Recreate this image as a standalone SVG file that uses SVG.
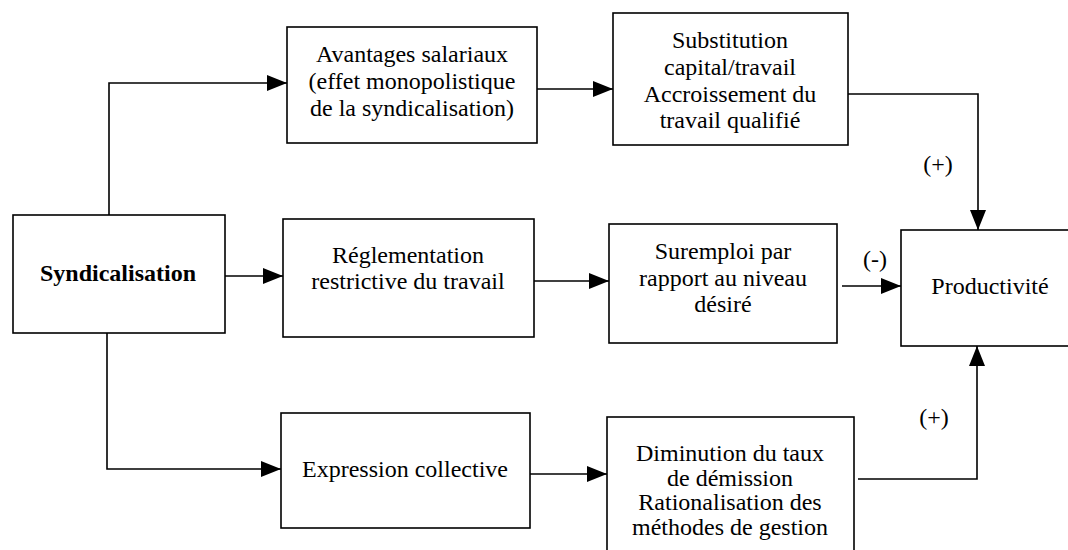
<svg xmlns="http://www.w3.org/2000/svg" width="1068" height="550" viewBox="0 0 1068 550">
<style>
.box{fill:#fff;stroke:#000;stroke-width:1.6}
.t{font-family:'Liberation Serif','Times New Roman','DejaVu Serif',serif;font-size:24px;fill:#000;text-anchor:middle}
.b{font-weight:bold}
.c{fill:none;stroke:#000;stroke-width:1.6}
</style>
<defs>
<marker id="ah" markerUnits="userSpaceOnUse" markerWidth="20" markerHeight="16" refX="20" refY="8" orient="auto">
<path d="M0,0 L20,8 L0,16 z" fill="#000"/>
</marker>
</defs>
<rect width="1068" height="550" fill="#fff"/>
<g id="connectors">
<polyline class="c" points="109,215 109,83 287,83" marker-end="url(#ah)"/>
<line class="c" x1="225" y1="276" x2="283" y2="276" marker-end="url(#ah)"/>
<polyline class="c" points="107,333 107,469 281,469" marker-end="url(#ah)"/>
<line class="c" x1="537" y1="89" x2="613" y2="89" marker-end="url(#ah)"/>
<line class="c" x1="534" y1="281" x2="609" y2="281" marker-end="url(#ah)"/>
<line class="c" x1="530" y1="474" x2="607" y2="474" marker-end="url(#ah)"/>
<polyline class="c" points="848,94 978,94 978,230" marker-end="url(#ah)"/>
<line class="c" x1="842" y1="286" x2="901" y2="286" marker-end="url(#ah)"/>
<polyline class="c" points="858,479 977,479 977,346" marker-end="url(#ah)"/>
<text class="t" font-family="Liberation Serif, serif" x="938" y="172">(+)</text>
<text class="t" font-family="Liberation Serif, serif" x="875" y="267">(-)</text>
<text class="t" font-family="Liberation Serif, serif" x="934" y="425">(+)</text>
</g>
<g id="syndicalisation">
<rect class="box" x="13" y="215" width="212" height="118"/>
<text class="t b" x="118" y="281">Syndicalisation</text>
</g>
<g id="avantages">
<rect class="box" x="287" y="27" width="250" height="116"/>
<text class="t" x="412" y="62">Avantages salariaux</text>
<text class="t" x="412" y="89">(effet monopolistique</text>
<text class="t" x="412" y="116">de la syndicalisation)</text>
</g>
<g id="reglementation">
<rect class="box" x="283" y="219" width="251" height="118"/>
<text class="t" x="408" y="263">Réglementation</text>
<text class="t" x="408" y="289">restrictive du travail</text>
</g>
<g id="expression">
<rect class="box" x="281" y="413" width="249" height="115"/>
<text class="t" x="405" y="477">Expression collective</text>
</g>
<g id="substitution">
<rect class="box" x="613" y="13" width="235" height="132"/>
<text class="t" x="730" y="48">Substitution</text>
<text class="t" x="730" y="75">capital/travail</text>
<text class="t" x="730" y="102">Accroissement du</text>
<text class="t" x="730" y="128">travail qualifié</text>
</g>
<g id="suremploi">
<rect class="box" x="609" y="224" width="228" height="119"/>
<text class="t" x="723" y="259">Suremploi par</text>
<text class="t" x="723" y="286">rapport au niveau</text>
<text class="t" x="723" y="312">désiré</text>
</g>
<g id="diminution">
<rect class="box" x="607" y="417" width="247" height="150"/>
<text class="t" x="730" y="461">Diminution du taux</text>
<text class="t" x="730" y="486">de démission</text>
<text class="t" x="730" y="510">Rationalisation des</text>
<text class="t" x="730" y="535">méthodes de gestion</text>
</g>
<g id="productivite">
<rect class="box" x="901" y="230" width="180" height="116"/>
<text class="t" x="990" y="294">Productivité</text>
</g>
</svg>
